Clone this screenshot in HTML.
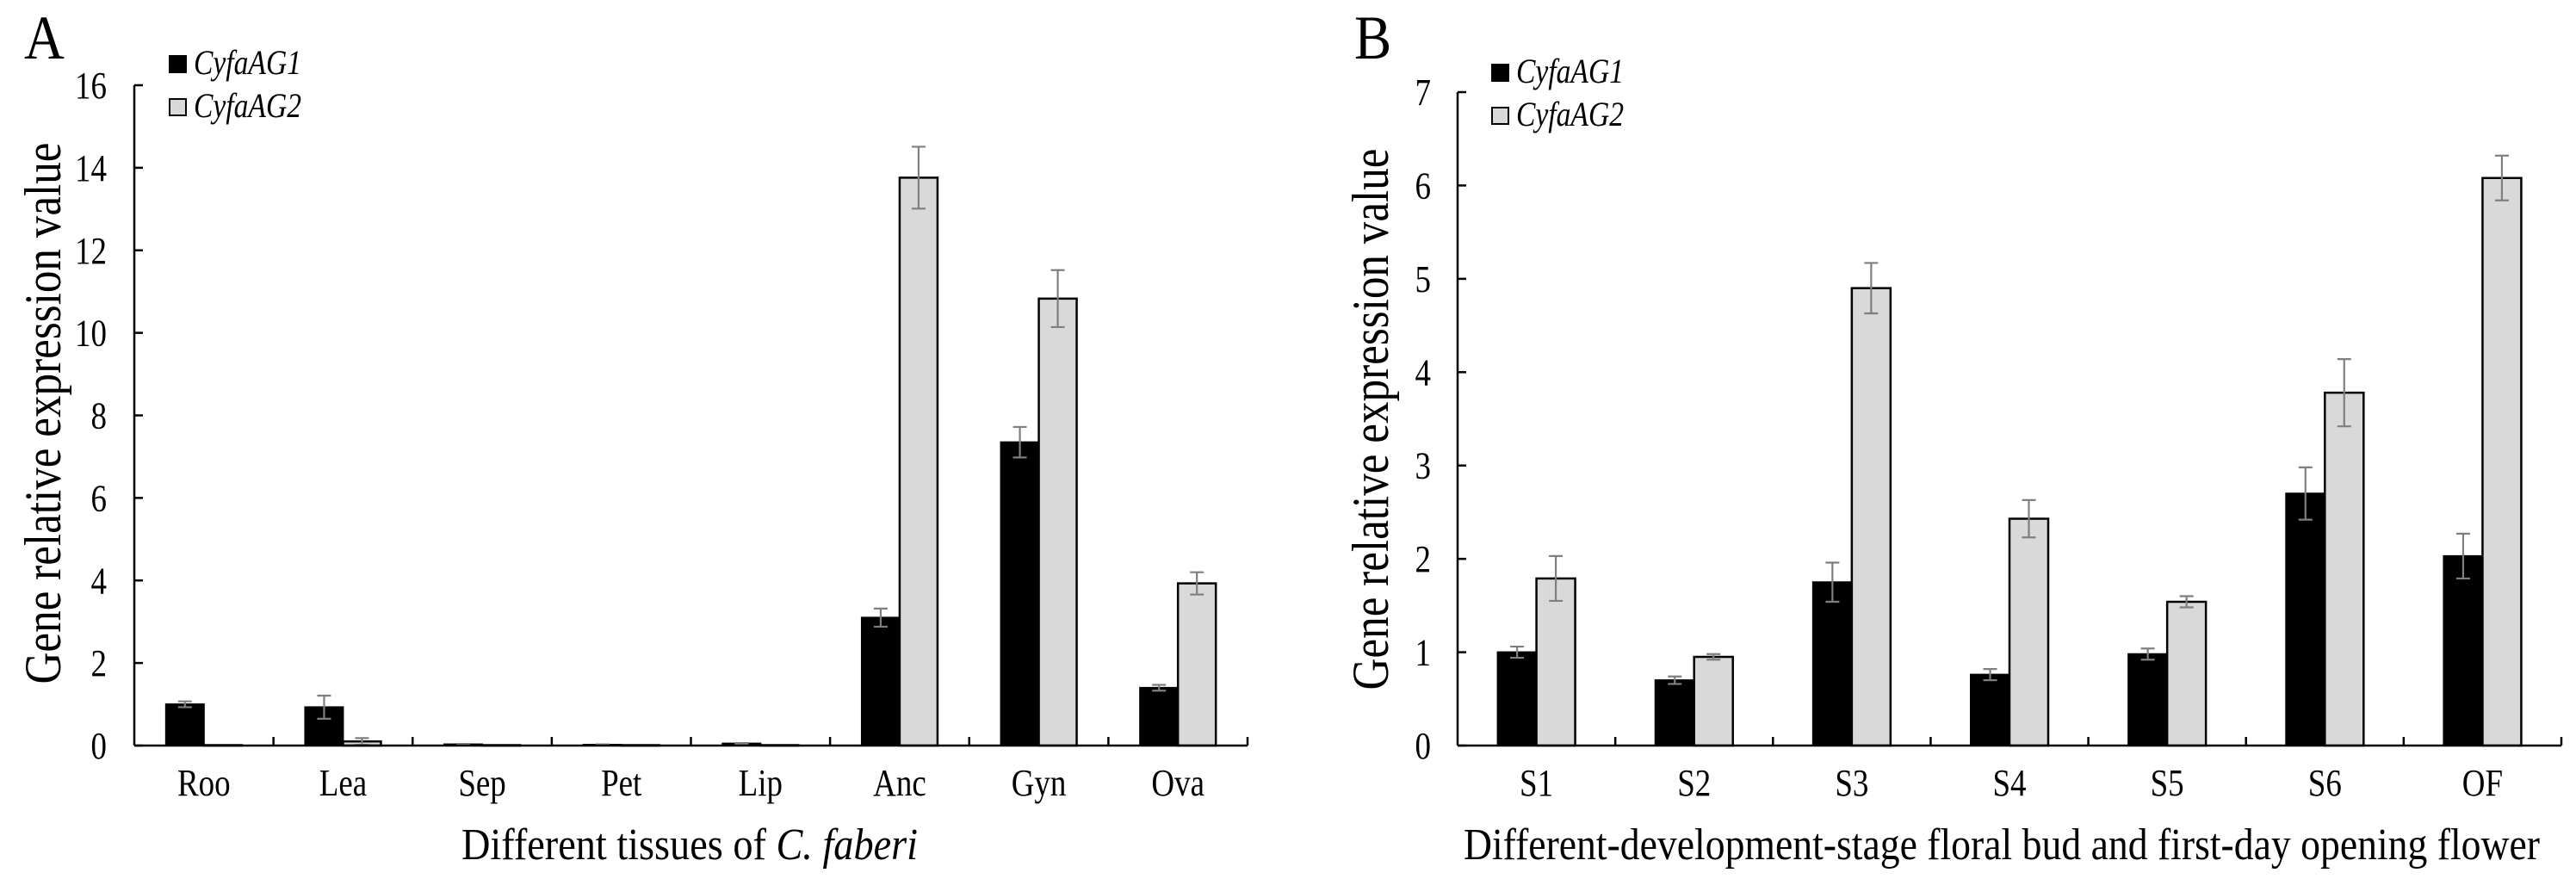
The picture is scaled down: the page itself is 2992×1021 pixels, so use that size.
<!DOCTYPE html>
<html><head><meta charset="utf-8"><style>
html,body{margin:0;padding:0;background:#fff;}
svg{display:block;font-family:"Liberation Serif",serif;}
</style></head><body>
<svg id="fig" width="2992" height="1021" viewBox="0 0 2992 1021" xmlns="http://www.w3.org/2000/svg">
<text x="0" y="0" font-size="72" transform="translate(28,68) scale(0.9,1)">A</text>
<text x="0" y="0" font-size="72" transform="translate(1573,68) scale(0.9,1)">B</text>
<g id="panelA"></g>
<g id="panelB"></g>
</svg>
<script>
const catsA = ["Roo","Lea","Sep","Pet","Lip","Anc","Gyn","Ova"];
const g1A = [1.0,0.93,0.03,0.02,0.05,3.1,7.35,1.40];
const g1ErrA = [0.07,0.28,0.01,0.01,0.01,0.22,0.37,0.07];
const g2A = [0.01,0.1,0.01,0.01,0.01,13.76,10.83,3.93];
const g2ErrA = [0,0.08,0,0,0,0.75,0.69,0.27];
const ticksA = [0,2,4,6,8,10,12,14,16];

const catsB = ["S1","S2","S3","S4","S5","S6","OF"];
const g1B = [1.0,0.7,1.75,0.76,0.98,2.7,2.03];
const g1ErrB = [0.06,0.04,0.21,0.06,0.06,0.28,0.24];
const g2B = [1.79,0.95,4.9,2.43,1.54,3.78,6.08];
const g2ErrB = [0.24,0.03,0.27,0.2,0.06,0.36,0.24];
const ticksB = [0,1,2,3,4,5,6,7];

const NS = "http://www.w3.org/2000/svg";
const SX = 0.84;
function mk(parent, tag, attrs, text){
  const e = document.createElementNS(NS, tag);
  for (const k in attrs) e.setAttribute(k, attrs[k]);
  if (text !== undefined) e.textContent = text;
  parent.appendChild(e);
  return e;
}
function txt(parent, x, y, size, anchor, content, extra){
  const attrs = Object.assign({x: 0, y: 0, "font-size": size, "text-anchor": anchor, transform: `translate(${x},${y}) scale(${SX},1)`}, extra || {});
  return mk(parent, "text", attrs, content);
}

function drawPanel(g, cfg){
  const {x0, x1, y0, yTop, ymax, cats, s1, e1, s2, e2, ticks, barW, tickRight, title, titleLen, titleX, ytX, ytY, ytLen, legX, legY} = cfg;
  const cw = (x1 - x0) / cats.length;
  const yS = v => y0 - (v / ymax) * (y0 - yTop);
  const xC = i => x0 + (i + 0.5) * cw;

  cats.forEach((c, i) => {
    const cx = xC(i);
    const b1 = mk(g, "rect", {x: cx - barW, y: yS(s1[i]), width: barW, height: y0 - yS(s1[i]), fill: "#000", stroke: "#000", "stroke-width": 2});
    
    
    const b2 = mk(g, "rect", {x: cx, y: yS(s2[i]), width: barW, height: y0 - yS(s2[i]), fill: "#d9d9d9", stroke: "#000", "stroke-width": 2.5});
    
    
    [[cx - barW/2, s1[i], e1[i]], [cx + barW/2, s2[i], e2[i]]].forEach(([ex, v, er], k) => {
      if (er <= 0) return;
      const eg = mk(g, "g", {stroke: "#7f7f7f", "stroke-width": 2.2, fill: "none"});
      
      
      mk(eg, "line", {x1: ex, x2: ex, y1: yS(v + er), y2: yS(v - er)});
      mk(eg, "line", {x1: ex - 8, x2: ex + 8, y1: yS(v + er), y2: yS(v + er)});
      mk(eg, "line", {x1: ex - 8, x2: ex + 8, y1: yS(v - er), y2: yS(v - er)});
    });
    const lbl = txt(g, cx, y0 + 58, 44, "middle", c);
    
    
  });

  const ax = mk(g, "g", {stroke: "#000", "stroke-width": 2.5, fill: "none"});
  
  
  mk(ax, "line", {x1: x0, x2: x0, y1: yTop, y2: y0});
  mk(ax, "line", {x1: x0, x2: x1, y1: y0, y2: y0});
  for (let i = 1; i <= cats.length; i++) mk(ax, "line", {x1: x0 + i*cw, x2: x0 + i*cw, y1: y0, y2: y0 - 10});
  ticks.forEach(t => {
    mk(ax, "line", {x1: x0, x2: x0 + 10, y1: yS(t), y2: yS(t)});
    const tl = txt(g, tickRight, yS(t) + 15, 44, "end", String(t));
    
    
  });

  const xt = mk(g, "text", {x: titleX, y: 998, "font-size": 52, "text-anchor": "middle", textLength: titleLen, lengthAdjust: "spacingAndGlyphs"});
  
  
  xt.innerHTML = title;
  const yt = mk(g, "text", {x: 0, y: 0, "font-size": 60, "text-anchor": "middle", textLength: ytLen, lengthAdjust: "spacingAndGlyphs", transform: `translate(${ytX},${ytY}) rotate(-90)`}, "Gene relative expression value");
  
  

  [["CyfaAG1", "#000"], ["CyfaAG2", "#d9d9d9"]].forEach(([n, f], k) => {
    const lg = mk(g, "g", {});
    
    
    mk(lg, "rect", {x: legX, y: legY + k*50, width: 19, height: 19, fill: f, stroke: "#000", "stroke-width": 2});
    txt(lg, legX + 28, legY + 21 + k*50, 40, "start", n, {"font-style": "italic"});
  });
}

drawPanel(document.getElementById("panelA"), {
  x0: 156, x1: 1449, y0: 866, yTop: 99, ymax: 16, cats: catsA, s1: g1A, e1: g1ErrA, s2: g2A, e2: g2ErrA,
  ticks: ticksA, barW: 44, tickRight: 124, title: 'Different tissues of <tspan font-style="italic">C. faberi</tspan>',
  titleLen: 530, titleX: 801, ytX: 70, ytY: 480, ytLen: 629, legX: 197, legY: 65
});
drawPanel(document.getElementById("panelB"), {
  x0: 1693, x1: 2975, y0: 866, yTop: 107, ymax: 7, cats: catsB, s1: g1B, e1: g1ErrB, s2: g2B, e2: g2ErrB,
  ticks: ticksB, barW: 45, tickRight: 1662, title: 'Different-development-stage floral bud and first-day opening flower',
  titleLen: 1250, titleX: 2325, ytX: 1612, ytY: 487, ytLen: 629, legX: 1733, legY: 75
});
</script>
</body></html>
